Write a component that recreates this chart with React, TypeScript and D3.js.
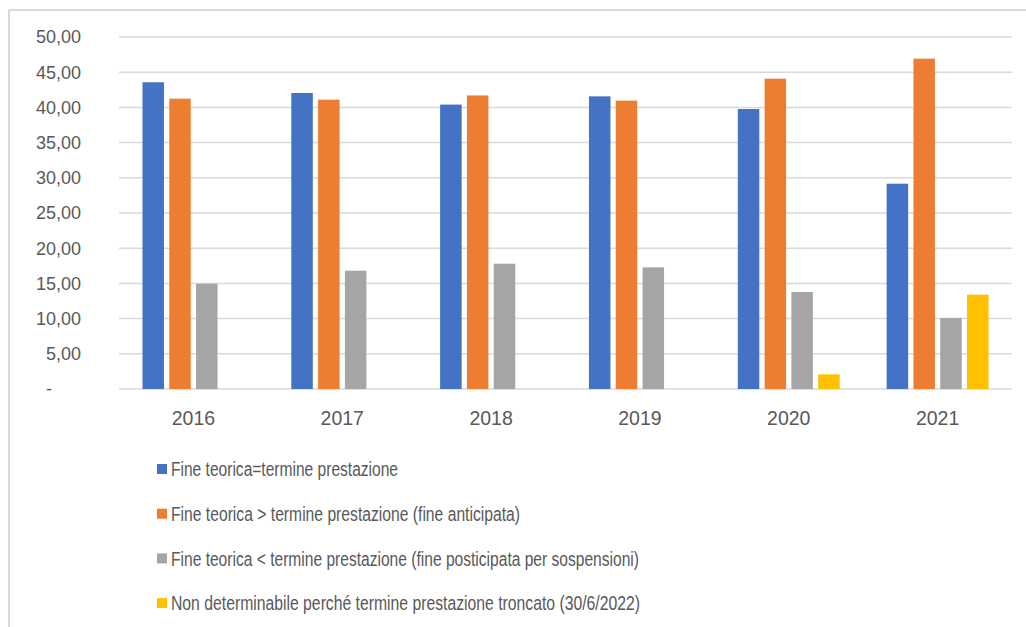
import React from "react";
import * as d3 from "d3";

const years = ["2016", "2017", "2018", "2019", "2020", "2021"];
const seriesNames = [
  "Fine teorica=termine prestazione",
  "Fine teorica > termine prestazione (fine anticipata)",
  "Fine teorica < termine prestazione (fine posticipata per sospensioni)",
  "Non determinabile perché termine prestazione troncato (30/6/2022)",
];
const fineUguale = [43.57, 42.05, 40.4, 41.57, 39.77, 29.16];
const fineAnticipata = [41.24, 41.1, 41.7, 40.96, 44.08, 46.92];
const finePosticipata = [14.96, 16.8, 17.8, 17.28, 13.78, 10.09];
const nonDeterminabile = [0, 0, 0, 0, 2.08, 13.4];
const yTicks = [0, 5, 10, 15, 20, 25, 30, 35, 40, 45, 50];
const colors = ["#4472C4", "#ED7D31", "#A5A5A5", "#FFC000"];
const legendWidths = [227, 349, 468, 469];

export default function App() {
  const W = 1026, H = 627;
  const left = 119, right = 1012, top = 37, bottom = 389;
  const series = [fineUguale, fineAnticipata, finePosticipata, nonDeterminabile];
  const x = d3.scaleBand<string>().domain(years).range([left, right]).paddingInner(0).paddingOuter(0);
  const y = d3.scaleLinear().domain([0, 50]).range([bottom, top]);
  const barW = 21.5;
  const step = 26.8;
  const groupW = barW * 4 + (step - barW) * 3;
  const fmt = (v: number) => (v === 0 ? "-" : d3.format(".2f")(v).replace(".", ","));

  return (
    <svg width={W} height={H} style={{ position: "absolute", left: 0, top: 0 }}>
      <rect x={0} y={0} width={W} height={H} fill="#fff" />
      <line x1={9} x2={9} y1={10} y2={H} stroke="#d9d9d9" strokeWidth={2} />
      <line x1={9} x2={W} y1={10} y2={10} stroke="#d9d9d9" strokeWidth={2} />
      {yTicks.map((t) => (
        <g key={t}>
          <line x1={left} x2={right} y1={y(t)} y2={y(t)} stroke="#d9d9d9" strokeWidth={1.5} />
          <text
            x={t === 0 ? 49 : 81}
            y={y(t)}
            dy="0.35em"
            textAnchor={t === 0 ? "middle" : "end"}
            fontFamily="'Liberation Sans', Arial, sans-serif"
            fontSize={18}
            fill="#595959"
          >
            {fmt(t)}
          </text>
        </g>
      ))}
      {years.map((yr, i) => {
        const cx = (x(yr) as number) + x.bandwidth() / 2;
        const x0 = cx - groupW / 2;
        return (
          <g key={yr}>
            {series.map((s, j) =>
              s[i] > 0 ? (
                <rect
                  key={j}
                  x={x0 + j * step}
                  y={y(s[i])}
                  width={barW}
                  height={y(0) - y(s[i])}
                  fill={colors[j]}
                />
              ) : null
            )}
            <text
              x={cx}
              y={425}
              textAnchor="middle"
              fontFamily="'Liberation Sans', Arial, sans-serif"
              fontSize={19.5}
              fill="#595959"
            >
              {yr}
            </text>
          </g>
        );
      })}
      {seriesNames.map((name, j) => {
        const cy = 469 + j * 44.7;
        return (
          <g key={name}>
            <rect x={157} y={cy - 5} width={10} height={10} fill={colors[j]} />
            <text
              x={171}
              y={cy}
              dy="0.36em"
              fontFamily="'Liberation Sans', Arial, sans-serif"
              fontSize={20}
              fill="#595959"
              textLength={legendWidths[j]}
              lengthAdjust="spacingAndGlyphs"
            >
              {name}
            </text>
          </g>
        );
      })}
    </svg>
  );
}
